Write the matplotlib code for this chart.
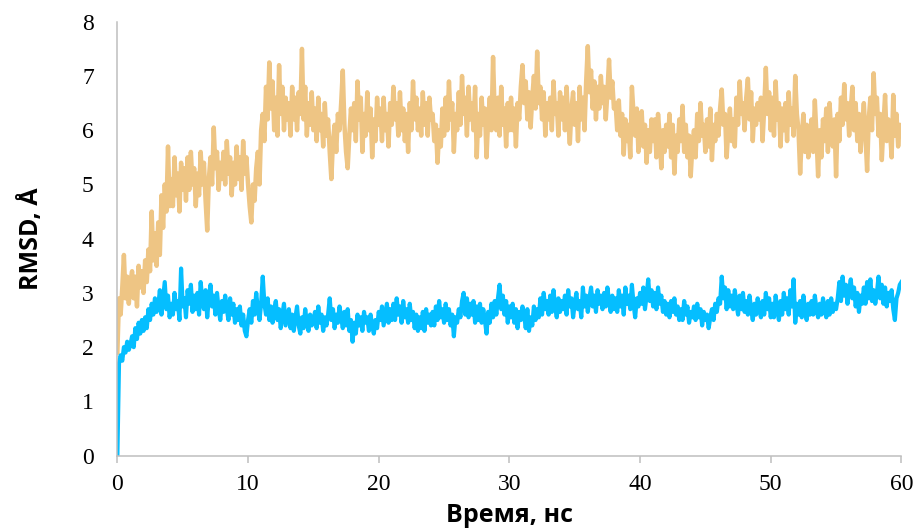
import numpy as np
import matplotlib
matplotlib.use('Agg')
import matplotlib.pyplot as plt

# RMSD traces, one value every 0.125 ns (0 .. 60 ns)
# first value is t = 0, then 8 values per nanosecond
step_ns = 0.125

rmsd_blue = [
    0.0,
    1.7, 1.85, 1.75, 2.0, 1.9, 2.1, 1.95, 2.05,
    2.2, 2.0, 2.35, 2.15, 2.45, 2.25, 2.5, 2.3,
    2.55, 2.35, 2.7, 2.5, 2.8, 2.6, 2.9, 2.65,
    2.75, 3.05, 2.6, 2.9, 3.2, 2.7, 2.95, 2.55,
    2.8, 2.6, 3.0, 2.7, 2.85, 2.5, 3.45, 2.75,
    2.9, 2.55, 3.05, 2.8, 3.15, 2.65, 2.95, 2.7,
    3.0, 2.6, 3.2, 2.85, 2.7, 3.05, 2.55, 2.9,
    3.15, 2.75, 2.95, 2.6, 3.0, 2.7, 2.5, 2.85,
    2.65, 2.95, 2.7, 2.5, 2.9, 2.6, 2.8, 2.45,
    2.7, 2.5, 2.75, 2.4, 2.6, 2.3, 2.2, 2.5,
    2.7, 2.45, 2.85, 2.6, 3.0, 2.7, 2.5, 2.8,
    3.3, 2.8, 2.6, 2.9, 2.5, 2.75, 2.45, 2.7,
    2.85, 2.5, 2.7, 2.35, 2.6, 2.8, 2.4, 2.55,
    2.7, 2.35, 2.6, 2.3, 2.55, 2.75, 2.4, 2.25,
    2.55, 2.35, 2.7, 2.45, 2.3, 2.6, 2.4, 2.5,
    2.65, 2.35, 2.75, 2.45, 2.6, 2.3, 2.55, 2.4,
    2.6, 2.9, 2.5, 2.7, 2.35, 2.6, 2.45, 2.75,
    2.55, 2.35, 2.65, 2.4, 2.7, 2.3, 2.5, 2.1,
    2.45, 2.25, 2.6, 2.4, 2.55, 2.3, 2.65, 2.45,
    2.55, 2.3, 2.6, 2.4, 2.25, 2.5, 2.35, 2.65,
    2.5, 2.75, 2.4, 2.6, 2.8, 2.45, 2.7, 2.5,
    2.8, 2.5, 2.9, 2.6, 2.75, 2.45, 2.85, 2.55,
    2.7, 2.45, 2.8, 2.5, 2.65, 2.35, 2.6, 2.3,
    2.55, 2.35, 2.65, 2.3, 2.7, 2.45, 2.6, 2.4,
    2.65, 2.4, 2.75, 2.5, 2.85, 2.55, 2.7, 2.45,
    2.8, 2.5, 2.7, 2.4, 2.6, 2.2, 2.55, 2.45,
    2.7, 2.55, 2.85, 3.0, 2.6, 2.9, 2.55, 2.8,
    2.6, 2.85, 2.45, 2.75, 2.5, 2.8, 2.45, 2.7,
    2.5, 2.25, 2.65, 2.45, 2.8, 2.55, 2.85, 2.6,
    2.9, 3.15, 2.7, 2.95, 2.6, 2.85, 2.45, 2.75,
    2.55, 2.8, 2.45, 2.7, 2.35, 2.65, 2.5, 2.75,
    2.6, 2.35, 2.7, 2.3, 2.55, 2.4, 2.75, 2.5,
    2.7, 2.55, 2.9, 2.6, 3.0, 2.7, 2.85, 2.6,
    2.95, 2.65, 3.05, 2.75, 2.55, 2.9, 2.65, 2.85,
    2.7, 2.95, 2.6, 3.05, 2.75, 2.9, 2.55, 2.8,
    3.0, 2.7, 2.85, 2.55, 3.1, 2.75, 2.95, 2.65,
    2.9, 3.1, 2.75, 2.95, 2.65, 3.05, 2.8, 2.95,
    2.7, 3.0, 2.75, 3.1, 2.85, 2.65, 2.95, 2.7,
    2.9, 2.65, 3.05, 2.75, 2.95, 2.6, 3.1, 2.8,
    2.95, 2.7, 3.15, 2.8, 2.55, 2.9, 2.75, 3.0,
    2.8, 3.1, 2.7, 2.95, 3.25, 2.85, 3.05, 2.75,
    3.0, 2.7, 3.1, 2.8, 2.95, 2.65, 2.85, 2.6,
    2.8, 2.55, 2.85, 2.65, 2.9, 2.6, 2.75, 2.5,
    2.7, 2.5, 2.85, 2.6, 2.75, 2.45, 2.65, 2.55,
    2.75, 2.5, 2.8, 2.55, 2.7, 2.4, 2.65, 2.5,
    2.6, 2.35, 2.55, 2.7, 2.5, 2.8, 2.65, 2.9,
    2.8, 3.3, 2.9, 3.1, 2.7, 3.05, 2.75, 2.95,
    2.7, 3.05, 2.8, 2.6, 2.95, 2.7, 3.0, 2.65,
    2.85, 2.6, 2.95, 2.7, 2.5, 2.8, 2.6, 2.9,
    2.7, 2.55, 2.85, 2.6, 3.0, 2.7, 2.9, 2.55,
    2.8, 2.55, 2.95, 2.7, 2.5, 2.85, 2.6, 3.0,
    2.7, 2.9, 2.6, 3.05, 2.75, 3.25, 2.45, 2.8,
    2.6, 2.85, 2.55, 2.95, 2.7, 2.5, 2.8, 2.6,
    2.85, 2.6, 2.95, 2.7, 2.55, 2.8, 2.6, 2.9,
    2.7, 2.55, 2.85, 2.6, 2.9, 2.65, 2.8, 2.7,
    2.9, 3.2, 2.85, 3.3, 2.95, 3.15, 2.8, 3.05,
    3.25, 2.9, 3.1, 2.75, 3.0, 2.65, 2.95, 2.8,
    3.1, 2.8, 3.2, 2.9, 3.25, 2.85, 3.05, 2.8,
    3.0, 3.3, 2.9, 3.15, 2.8, 3.1, 2.75, 3.0,
    2.85, 3.05, 2.7, 2.5, 2.9, 3.0, 3.15, 3.2,
]

rmsd_orange = [
    1.9,
    2.9, 2.6, 3.1, 3.7, 2.9, 3.3, 2.8, 3.2,
    3.4, 2.9, 3.3, 2.75, 3.5, 3.1, 3.4, 3.0,
    3.6, 3.2, 3.8, 3.4, 4.5, 3.6, 4.1, 3.5,
    4.3, 3.7, 4.8, 4.2, 5.0, 4.5, 5.7, 4.6,
    5.1, 4.6, 5.5, 4.8, 5.2, 4.5, 5.4, 4.9,
    5.3, 4.7, 5.5, 4.9, 5.6, 5.0, 5.3, 4.6,
    5.2, 4.8, 5.6, 5.0, 5.4, 4.7, 4.15, 5.1,
    5.5, 5.0, 6.05, 5.3, 5.6, 4.9, 5.4, 5.1,
    5.6, 5.0, 5.8, 5.2, 5.5, 4.8, 5.4, 5.0,
    5.7, 5.1, 5.5, 4.9, 5.8, 5.2, 5.5, 5.0,
    4.6, 4.3, 5.0, 4.7, 5.3, 5.6, 5.0, 6.0,
    6.3, 5.8, 6.8, 6.2, 7.25, 6.4, 6.9, 6.0,
    6.6, 5.9, 7.2, 6.3, 6.8, 6.0, 6.6, 6.2,
    6.5, 5.9, 6.8, 6.2, 6.6, 6.0, 6.7, 6.3,
    7.5, 6.2, 6.8, 5.9, 6.5, 6.1, 6.7, 6.0,
    6.4, 5.8, 6.6, 6.0, 6.3, 5.7, 6.5, 5.9,
    6.2, 5.6, 5.1, 5.8, 6.1, 5.6, 6.3, 6.0,
    6.5, 7.1, 6.1, 5.6, 5.3, 5.9, 6.4, 6.0,
    6.5, 5.8, 6.9, 6.2, 6.6, 5.6, 6.3, 5.9,
    6.7, 6.0, 6.4, 5.5, 6.2, 5.8, 6.6, 6.1,
    6.4, 5.8, 6.6, 6.0, 6.3, 5.7, 6.5, 6.1,
    6.8, 6.2, 6.5, 5.9, 6.7, 6.0, 6.4, 5.8,
    6.3, 5.6, 6.5, 6.0, 6.9, 6.2, 6.6, 6.0,
    6.4, 5.9, 6.7, 6.1, 6.5, 5.9, 6.6, 6.2,
    6.3, 5.8, 6.1, 5.4, 6.0, 5.7, 6.4, 5.9,
    6.6, 6.0, 6.9, 6.2, 6.5, 5.6, 6.3, 6.0,
    6.7, 6.1, 7.0, 6.3, 6.6, 5.9, 6.8, 6.2,
    6.5, 6.0, 6.8, 5.5, 6.3, 5.9, 6.6, 6.1,
    6.4, 5.5, 6.2, 6.6, 6.0, 7.35, 6.3, 6.0,
    6.6, 5.9, 6.8, 6.1, 6.4, 5.7, 6.5, 6.0,
    6.6, 6.0, 6.4, 5.7, 6.5, 6.2, 6.8, 7.2,
    6.5, 6.9, 6.2, 6.7, 6.05, 6.6, 7.0, 6.4,
    7.45, 6.5, 6.8, 6.2, 6.7, 5.9, 6.5, 6.2,
    6.6, 6.0, 6.9, 6.3, 6.5, 5.9, 6.7, 6.2,
    6.6, 6.0, 6.8, 6.2, 5.75, 6.4, 6.7, 6.1,
    6.5, 5.8, 6.8, 6.2, 6.6, 6.0, 6.9, 7.55,
    6.7, 7.1, 6.4, 6.9, 6.2, 6.8, 6.4, 7.0,
    6.5, 6.8, 6.2, 6.7, 7.3, 6.6, 6.9, 6.4,
    6.5, 6.0, 6.55, 5.9, 6.3, 5.55, 6.2, 5.8,
    6.1, 5.5, 6.8, 6.3, 5.9, 6.4, 5.6, 6.0,
    6.35, 5.7, 6.1, 5.4, 6.0, 5.6, 6.2, 5.8,
    6.2, 5.5, 6.3, 5.9, 5.3, 6.0, 5.6, 6.1,
    5.7, 6.3, 5.5, 6.1, 5.2, 5.9, 5.6, 6.2,
    5.8, 6.45, 5.6, 6.1, 5.5, 5.9, 5.15, 5.7,
    6.0, 5.5, 6.3, 5.8, 6.5, 5.9, 6.1, 5.6,
    6.2, 5.7, 6.4, 5.45, 6.1, 5.8, 6.3, 5.9,
    6.4, 6.75, 6.1, 6.3, 5.5, 6.0, 6.4, 5.8,
    6.2, 5.7, 6.6, 6.1, 6.9, 6.3, 6.5, 6.0,
    6.6, 6.95, 6.2, 6.7, 5.8, 6.4, 6.1, 6.5,
    6.2, 6.6, 5.8, 6.4, 7.15, 6.3, 6.7, 6.0,
    6.6, 5.9, 6.9, 6.2, 6.5, 5.7, 6.4, 6.0,
    6.5, 5.8, 6.7, 6.1, 6.4, 5.9, 7.0, 6.3,
    6.0, 5.2, 5.9, 6.3, 5.6, 6.1, 5.5, 5.9,
    6.2, 5.6, 6.55, 5.9, 5.15, 6.0, 5.5, 6.2,
    5.8, 6.4, 5.6, 6.5, 6.0, 5.7, 6.2, 5.15,
    6.3, 5.8, 6.6, 6.1, 6.85, 6.2, 6.5, 5.9,
    6.4, 6.8, 6.0, 6.5, 5.8, 6.3, 5.6, 6.1,
    6.5, 5.9, 5.25, 6.2, 6.6, 6.0, 7.05, 6.3,
    6.6, 5.9, 6.3, 5.45, 6.1, 6.65, 5.8, 6.2,
    6.0, 5.5, 6.65, 5.9, 6.3, 5.7, 6.1, 5.95,
]

x_ticks = [0, 10, 20, 30, 40, 50, 60]
y_ticks = [0, 1, 2, 3, 4, 5, 6, 7, 8]

t_orange = np.arange(len(rmsd_orange)) * step_ns
t_blue = np.arange(len(rmsd_blue)) * step_ns

fig = plt.figure(figsize=(9.17, 5.31), dpi=100)
ax = fig.add_axes([0.128, 0.142, 0.855, 0.817])

ax.plot(t_orange, rmsd_orange, color='#EEC584', linewidth=3.2, solid_joinstyle='round')
ax.plot(t_blue, rmsd_blue, color='#05BEFF', linewidth=3.0, solid_joinstyle='round')

ax.set_xlim(0, 60)
ax.set_ylim(0, 8)
ax.set_xticks(x_ticks)
ax.set_yticks(y_ticks)

for side in ['top', 'right']:
    ax.spines[side].set_visible(False)
for side in ['left', 'bottom']:
    ax.spines[side].set_color('#BFBFBF')
    ax.spines[side].set_linewidth(1.1)

ax.tick_params(axis='x', direction='out', length=5, width=1.1, color='#BFBFBF', pad=8)
ax.tick_params(axis='y', length=0, pad=17)
for lab in ax.get_xticklabels() + ax.get_yticklabels():
    lab.set_fontfamily('Liberation Serif')
    lab.set_fontsize(17)

ax.set_xlabel('Время, нс', fontfamily='Open Sans', fontweight='bold', fontsize=18, labelpad=6)
ax.set_ylabel('RMSD, Å', fontfamily='Open Sans', fontweight='bold', fontsize=18, labelpad=27)

fig.savefig('out.png', dpi=100)
